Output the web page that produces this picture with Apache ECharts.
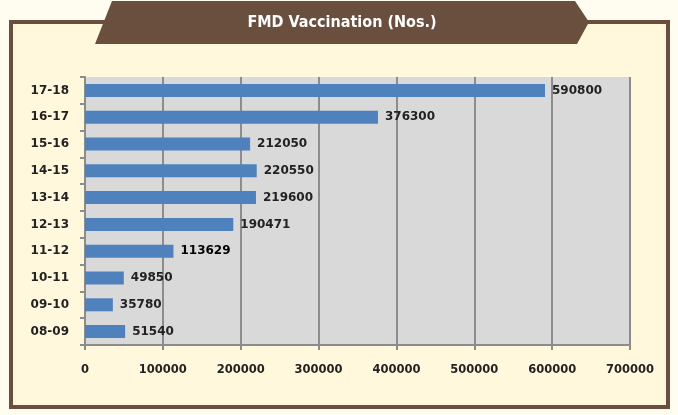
<!DOCTYPE html>
<html><head><meta charset="utf-8">
<script src="https://cdn.jsdelivr.net/npm/echarts@6/dist/echarts.min.js"></script>
<style>html,body{margin:0;padding:0;background:#fffdf0;}#c{width:678px;height:415px;}</style>
</head><body><div id="c"></div>
<script>
const titleText = 'FMD Vaccination (Nos.)';
const categories = ['08-09','09-10','10-11','11-12','12-13','13-14','14-15','15-16','16-17','17-18'];
const values = [51540, 35780, 49850, 113629, 190471, 219600, 220550, 212050, 376300, 590800];
const xTicks = [0, 100000, 200000, 300000, 400000, 500000, 600000, 700000];

const brown = '#6a4e3e';
const chart = echarts.init(document.getElementById('c'), null, {renderer: 'canvas'});
chart.setOption({
  backgroundColor: '#fffdf0',
  animation: false,
  graphic: {elements: [
    {type: 'rect', z: -10, shape: {x: 11, y: 22, width: 657, height: 385},
     style: {fill: '#fff8dc', stroke: brown, lineWidth: 4}},
    {type: 'polygon', z: 10, shape: {points: [[112, 1], [575, 1], [589, 22], [577, 44], [95, 44]]},
     style: {fill: brown}},
    {type: 'text', z: 11, x: 342, y: 23,
     style: {text: titleText, fill: '#ffffff', align: 'center', verticalAlign: 'middle',
             font: 'bold 16px "DejaVu Sans Condensed", "Liberation Sans Narrow", "DejaVu Sans", sans-serif'}}
  ]},
  grid: {left: 85, right: 48, top: 77, bottom: 70, show: true, backgroundColor: '#d9d9d9', borderWidth: 0},
  xAxis: {
    type: 'value', min: xTicks[0], max: xTicks[xTicks.length - 1], interval: xTicks[1] - xTicks[0],
    axisLine: {show: true, lineStyle: {color: '#8c8c8c', width: 2}},
    axisTick: {show: true, length: 5, lineStyle: {color: '#8c8c8c', width: 2}},
    splitLine: {show: true, lineStyle: {color: '#8c8c8c', width: 2}},
    axisLabel: {margin: 19, color: '#222', fontWeight: 'bold', fontSize: 11.5, fontFamily: '"DejaVu Sans", sans-serif',
                formatter: v => String(v)}
  },
  yAxis: {
    type: 'category', data: categories,
    axisLine: {show: true, lineStyle: {color: '#8c8c8c', width: 2}},
    axisTick: {show: true, length: 5, lineStyle: {color: '#8c8c8c', width: 2}},
    axisLabel: {margin: 16, color: '#222', fontWeight: 'bold', fontSize: 12, fontFamily: '"DejaVu Sans", sans-serif'}
  },
  series: [{
    type: 'bar', data: values.map((v, i) => categories[i] === '11-12'
      ? {value: v, label: {color: '#000'}} : v), barWidth: 13,
    itemStyle: {color: '#4f81bd'},
    label: {show: true, position: 'right', distance: 7, color: '#222', fontWeight: 'bold', fontSize: 12,
            fontFamily: '"DejaVu Sans", sans-serif'}
  }]
});
</script></body></html>
